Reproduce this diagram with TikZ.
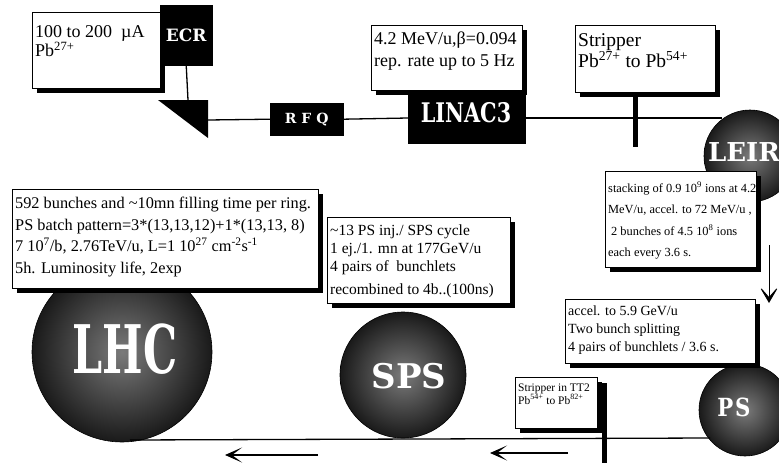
\documentclass[tikz,border=0pt]{standalone}
\usepackage{fontspec}
\setmainfont{Liberation Serif}
\newfontfamily\heavyserif{DejaVu Serif}
\usepackage{graphicx}
\usetikzlibrary{arrows.meta,shadows}
\begin{document}
\begin{tikzpicture}[x=1pt,y=-1pt,
  infobox/.style={draw=black, line width=1.2pt, fill=white, anchor=north west, inner sep=0pt,
    drop shadow={shadow xshift=4pt, shadow yshift=-4pt, opacity=1, fill=black}},
  infotext/.style={anchor=north west, align=left, inner sep=0pt},
  blackbox/.style={fill=black, draw=black, anchor=north west, inner sep=0pt, text=white},
  ring/.style={circle, draw=black, line width=0.6pt, inner sep=0pt, inner color=black!52, outer color=black!90},
  ringlabel/.style={text=white, inner sep=0pt},
  beam/.style={line width=1.3pt},
  bar/.style={line width=5pt},
  flowarrow/.style={line width=1.2pt, -{Stealth[length=17pt,width=15pt,inset=10pt]}}
]
\useasboundingbox (0,0) rectangle (779,463);

% rings
\node[ring, minimum size=180pt] (lhc) at (122,352) {};
\node[ring, minimum size=126pt] (sps) at (403,375) {};
\node[ring, minimum size=92pt] (ps) at (745,410) {};
\node[ring, minimum size=92pt] (leir) at (750,156) {};
\node[ringlabel, font={\fontsize{67}{67}\heavyserif\bfseries}] (lhct) at (125,349) {\scalebox{0.64}[1]{LHC}};
\node[ringlabel, font={\fontsize{34}{34}\heavyserif\bfseries}] (spst) at (409,376) {SPS};
\node[ringlabel, font={\fontsize{25}{25}\heavyserif\bfseries}] (pst) at (734,407) {\scalebox{0.85}[1]{P\hspace{2pt}S}};
\node[ringlabel, font={\fontsize{26}{26}\heavyserif\bfseries}] (leirt) at (744,152) {LEIR};

% source and linac line
\node[infobox, minimum width=128pt, minimum height=76pt] (boxA) at (32,12) {};
\node[infotext, font={\fontsize{18}{12}\selectfont}] (txtA) at (35,25) {100 to 200\ \ µA\\Pb\textsuperscript{27+}};
\node[blackbox, minimum width=52pt, minimum height=60pt, font={\fontsize{17}{17}\heavyserif\bfseries}] (ecr) at (160,5) {ECR};

\coordinate (triTop) at (188,100);
\coordinate (triOut) at (208,120);
\fill (158,100) -- (208,100) -- (208,138) -- cycle;
\draw[beam] (ecr.south |- 0,65) -- (triTop);

\node[blackbox, minimum width=73pt, minimum height=32pt, font={\fontsize{14}{14}\heavyserif\bfseries}] (rfq) at (270,103) {R\hspace{0.35em}F\hspace{0.35em}Q};
\node[blackbox, minimum width=117pt, minimum height=50pt] (linac) at (408,93) {};
\node[ringlabel, font={\fontsize{27}{27}\heavyserif\bfseries}] (linact) at (466,113) {\scalebox{0.77}[1]{LINAC3}};

\coordinate (leirIn) at (722,118);
\draw[beam] (triOut) -- (rfq.west);
\draw[beam] (rfq.east) -- (linac.west |- 0,118);
\draw[beam] (linac.east |- 0,118) -- (leirIn);

\node[infobox, minimum width=151pt, minimum height=65pt] (boxB) at (371,25) {};
\node[infotext, font={\fontsize{18}{22}\selectfont}] (txtB) at (374,32) {4.2 MeV/u,β=0.094\\rep. rate up to 5 Hz};

\node[infobox, minimum width=140pt, minimum height=67pt] (boxC) at (575,25) {};
\node[infotext, font={\fontsize{19.5}{16}\selectfont}] (txtC) at (578,33) {Stripper\\Pb\textsuperscript{27+} to Pb\textsuperscript{54+}};
\coordinate (cbarTop) at (635.5,92);
\coordinate (cbarBot) at (635.5,147);
\draw[bar] (cbarTop) -- (cbarBot);

% LEIR info
\node[infobox, minimum width=151pt, minimum height=96pt] (boxD) at (605,171) {};
\node[infotext, font={\fontsize{12.4}{21.5}\selectfont}] (txtD) at (608,182) {stacking of 0.9 10\textsuperscript{9} ions at 4.2\\MeV/u, accel. to 72 MeV/u ,\\\hspace{3pt}2 bunches of 4.5 10\textsuperscript{8} ions\\each every 3.6 s.};

\coordinate (downS) at (769,245);
\coordinate (downE) at (769,303);
\draw[line width=0.9pt, -{Stealth[length=18pt,width=21pt,inset=12pt]}] (downS) -- (downE);

% PS info
\node[infobox, minimum width=190pt, minimum height=64pt] (boxE) at (565,299) {};
\node[infotext, font={\fontsize{14}{18}\selectfont}] (txtE) at (568,306) {accel. to 5.9 GeV/u\\Two bunch splitting\\4 pairs of bunchlets / 3.6 s.};

% bottom line
\coordinate (lhcBot) at (130,440);
\coordinate (psIn) at (710,438);
\draw[beam] (lhcBot) -- (psIn);

\node[infobox, minimum width=82pt, minimum height=51pt] (boxF) at (515,377) {};
\node[infotext, font={\fontsize{11.5}{12.5}\selectfont}] (txtF) at (518,384) {Stripper in TT2\\Pb\textsuperscript{54+} to Pb\textsuperscript{82+}};
\coordinate (fbarTop) at (604.5,383);
\coordinate (fbarBot) at (604.5,463);
\draw[bar] (fbarTop) -- (fbarBot);

\coordinate (a1s) at (318,455);
\coordinate (a1e) at (225,455);
\coordinate (a2s) at (568,453);
\coordinate (a2e) at (490,453);
\draw[flowarrow] (a1s) -- (a1e);
\draw[flowarrow] (a2s) -- (a2e);

% LHC info
\node[infobox, minimum width=306pt, minimum height=99pt] (boxG) at (12,189) {};
\node[infotext, font={\fontsize{16.3}{21.5}\selectfont}] (txtG) at (15,197) {592 bunches and \textasciitilde10mn filling time per ring.\\PS batch pattern=3*(13,13,12)+1*(13,13, 8)\\7 10\textsuperscript{7}/b, 2.76TeV/u, L=1 10\textsuperscript{27} cm\textsuperscript{-2}s\textsuperscript{-1}\\5h. Luminosity life, 2exp};

% SPS info
\node[infobox, minimum width=183pt, minimum height=86pt] (boxH) at (327,217) {};
\node[infotext, font={\fontsize{15.5}{18}\selectfont}] (txtH) at (330,225) {\textasciitilde13 PS inj./ SPS cycle\\1 ej./1. mn at 177GeV/u\\4 pairs of\ \ bunchlets\\[5pt]recombined to 4b..(100ns)};

\end{tikzpicture}
\end{document}
